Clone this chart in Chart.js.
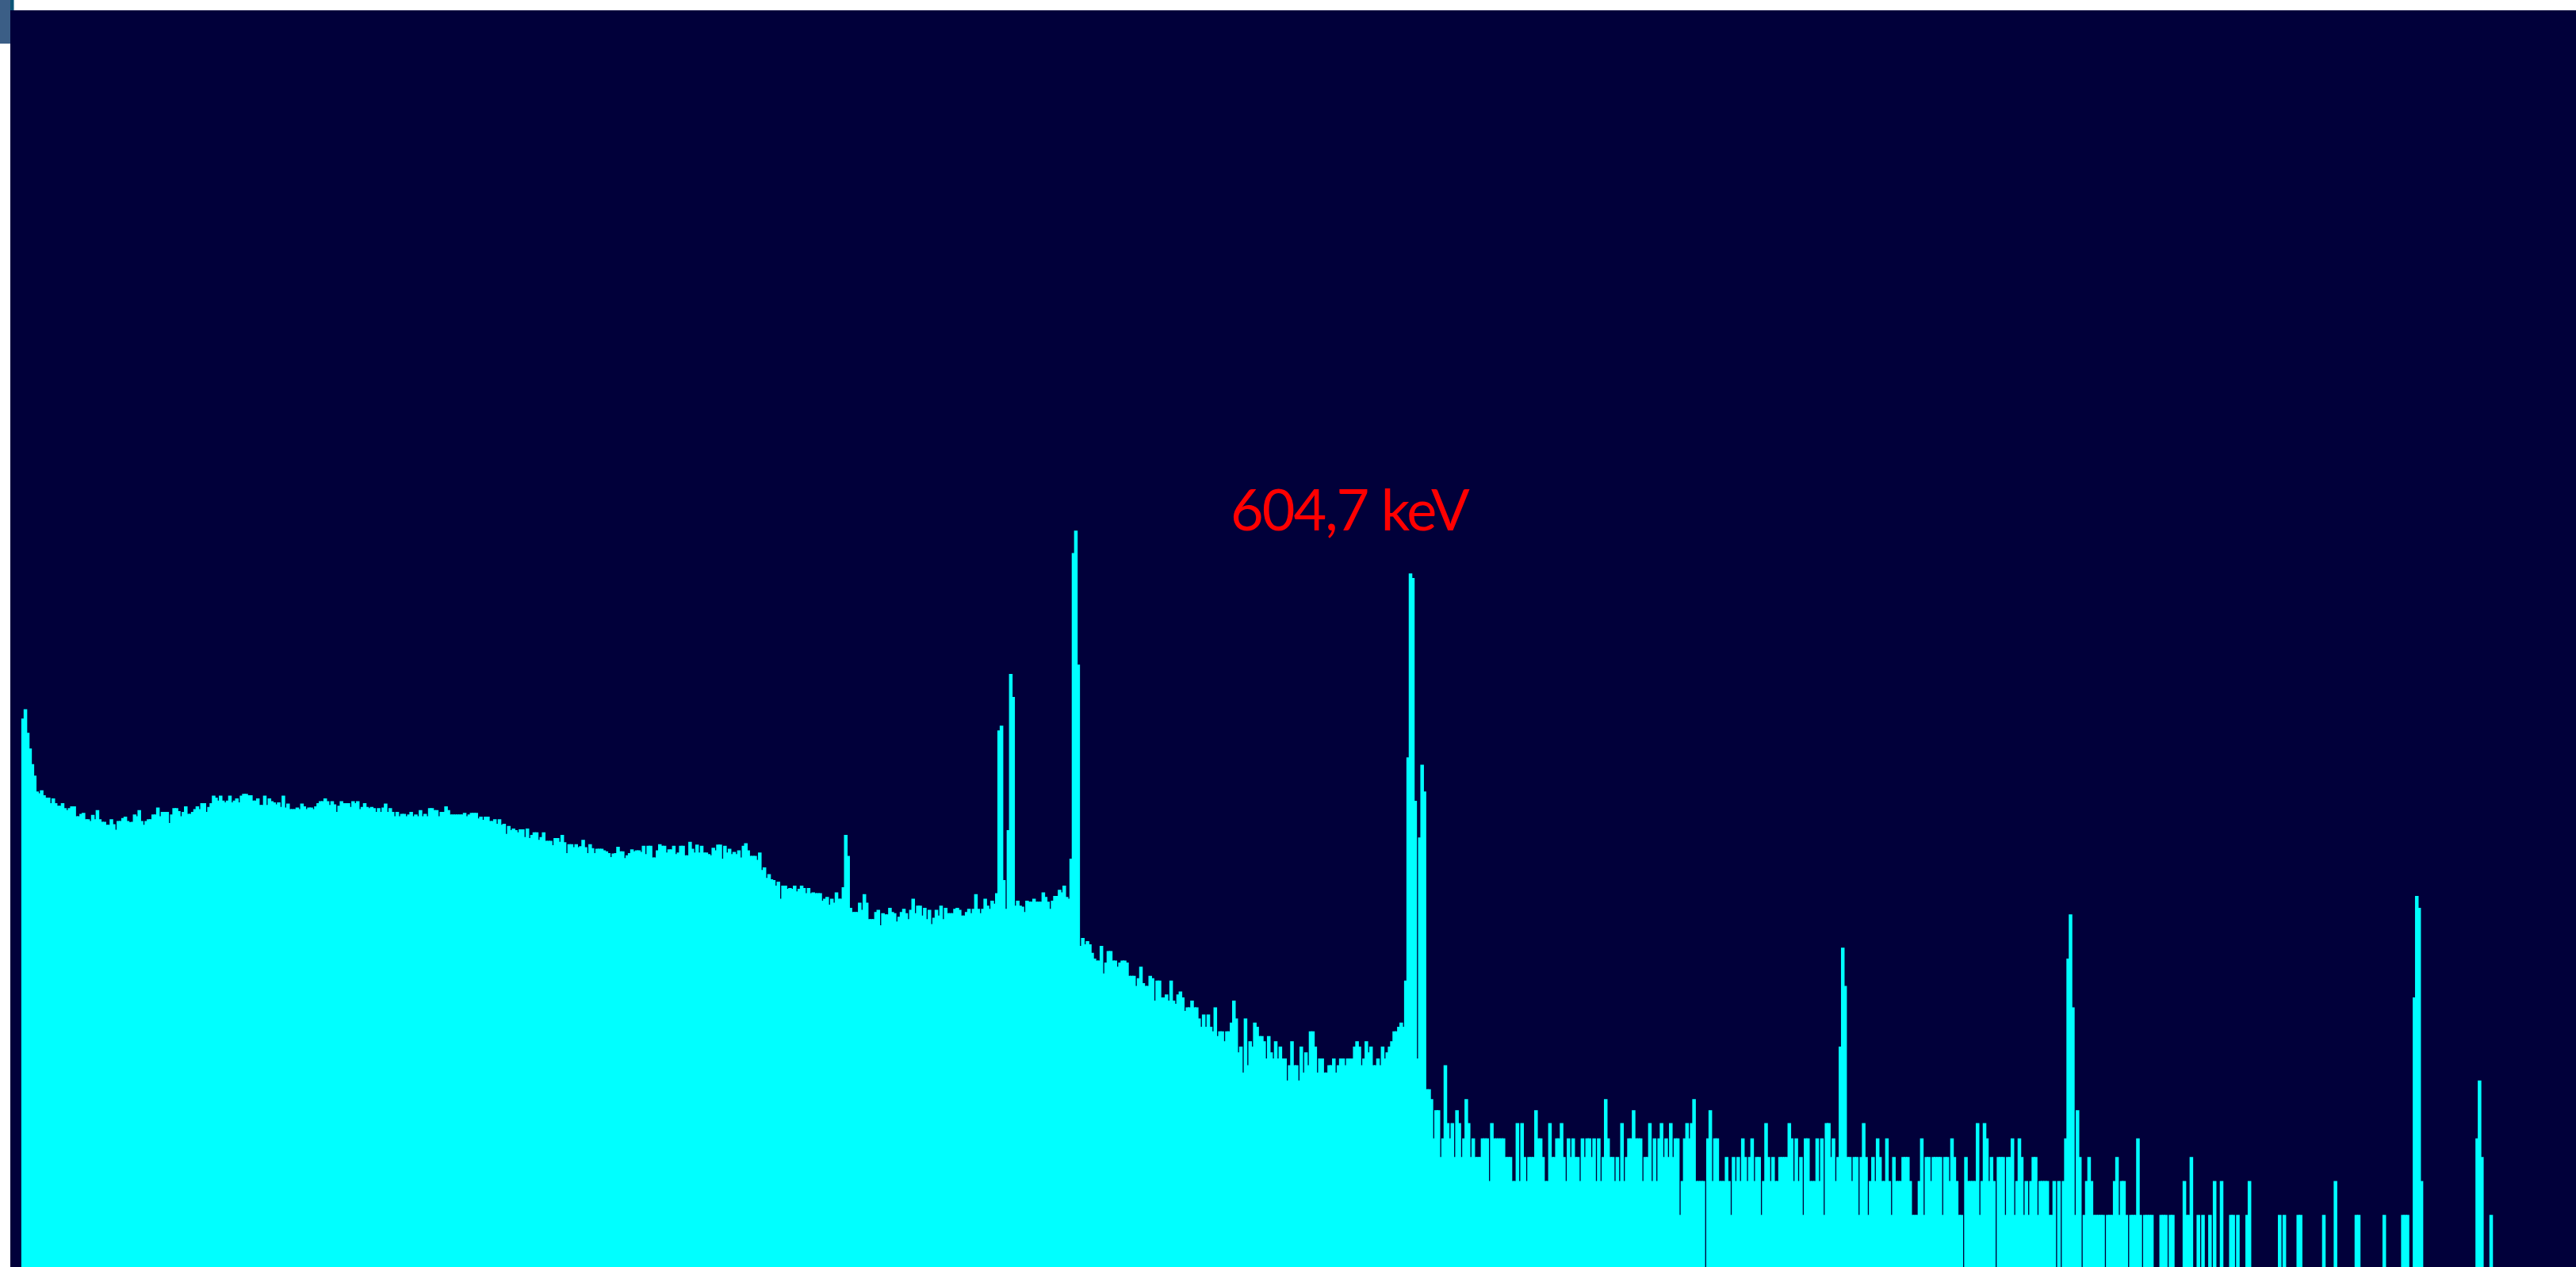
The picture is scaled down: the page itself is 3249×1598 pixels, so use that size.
<!DOCTYPE html>
<html>
<head>
<meta charset="utf-8">
<title>Spectrum</title>
<script src="https://cdn.jsdelivr.net/npm/chart.js@4.4.1/dist/chart.umd.min.js"></script>
<style>
  html, body { margin: 0; padding: 0; background: #ffffff; overflow: hidden; }
  #corner { position: absolute; left: 0; top: 0; width: 13px; height: 55px; background: #3b5e86; }
  #corner-strip { position: absolute; left: 13px; top: 0; width: 5px; height: 13px; background: #0b5576; border-right: 1px solid #7fa9bd; box-sizing: border-box; }
  #panel { position: absolute; left: 13px; top: 13px; width: 3236px; height: 1585px; background: #01003a; }
  #peak-label { position: absolute; left: 1552px; top: 605px; font-family: Lato, 'Open Sans', sans-serif; font-size: 72px; line-height: 72px; letter-spacing: -2px; color: #ff0000; white-space: nowrap; }
</style>
</head>
<body>
<div id="corner"></div>
<div id="corner-strip"></div>
<div id="panel"><canvas id="spectrum-chart" width="3236" height="1585"></canvas></div>
<div id="peak-label">604,7 keV</div>

<script>
// counts per channel (channels 0-268)
const continuumLow = [
  0,0,0,0,0,761,851,641,532,441,
  384,318,311,322,304,295,295,276,292,276,
  268,268,276,260,254,260,266,266,236,236,
  243,246,228,228,223,240,228,254,228,221,
  221,213,213,228,215,201,223,223,231,235,
  223,220,221,241,236,254,223,213,223,228,
  228,241,241,262,236,249,249,249,218,241,
  260,260,251,236,249,266,243,243,249,257,
  266,257,276,276,249,264,276,302,295,285,
  302,285,279,285,302,279,285,292,279,302,
  309,309,304,304,285,285,292,270,270,302,
  270,292,283,279,272,279,264,302,262,275,
  257,257,257,262,257,275,266,257,262,262,
  257,266,276,283,283,292,283,270,283,272,
  249,268,283,276,276,276,264,283,276,283,
  257,264,276,264,260,264,260,249,260,249,
  262,275,249,260,249,236,249,236,243,243,
  236,241,249,236,241,236,254,236,243,236,
  260,260,254,254,236,249,249,266,254,241,
  241,241,241,241,241,246,236,241,246,246,
  246,230,235,226,235,235,223,223,228,216,
  228,213,216,191,210,200,204,200,195,202,
  202,184,204,182,189,195,195,178,184,195,
  176,176,176,167,182,182,174,189,173,152,
  169,169,163,169,163,165,178,163,152,169,
  161,152,160,160,160,157,155,152,145,151,
  152,164,155,155,143,148,152,159,155
];

// channels 269-548 (small line, doublet, main line)
const continuumMid = [
  157,157,154,166,150,166,166,144,144,
  157,169,166,166,153,159,159,166,150,153,166,166,
  148,148,
  174,160,153,168,153,166,153,153,150,148,162,157,
  168,168,
  142,166,153,160,150,154,150,157,144,166,171,157,
  147,147,
  147,140,153,124,128,113,118,111,110,103,108,88,
  103,103,
  99,100,99,103,96,99,103,100,94,100,94,95,
  94,94,
  94,86,88,90,82,88,84,95,88,88,101,189,147,79,
  75,75,
  75,84,77,93,84,69,69,69,75,77,64,74,
  73,73,
  79,75,74,67,71,75,78,74,69,77,88,74,
  81,81,
  72,79,69,77,65,70,77,72,81,69,79,74,
  74,74,
  78,79,77,72,72,75,78,74,78,93,78,74,
  78,
  88,81,78,86,83,94,659,698,110,78,200,1298,986,81,86,81,80,75,86,
  85,85,
  88,85,85,85,95,90,85,78,86,
  91,91,
  98,95,103,90,88,142,5510,7210,1449,50,55,51,53,51,46,43,
  42,42,
  50,36,41,47,47,42,42,39,41,42,42,41,
  35,35,
  35,31,34,39,32,31,31,35,34,26,33,33,
  27,27,
  28,26,33,26,25,28,29,27,23,24,24,26,
  24,24,
  21,19,22,19,22,19,18,24,17,18,18,16,
  18,18,
  20,26,21,14,15,11,21,12,16,15,20,19,
  17,17,
  16,13,17,14,13,16,13,15,13,13
];

// channels 549-608 (604,7 keV line and its neighbour)
const shoulder = [
  10,12,16,12,12,10,15,11,14,12,
  18,18,15,11,13,13,11,11,12,12,
  13,11,12,13,13,12,
  13,13,13,15,16,15,12,13,16,14,
  15,12,12,13,12,15,13,14,15,16,
  18,18,19,20,19,33,478,4319,4090,284,
  13,183,438,318
];

// channels 609-813
const tailNear = [
  9,9,8,5,7,7,4,5,12,6,
  5,6,4,7,6,4,5,8,6,4,
  5,4,4,4,5,5,5,3,6,5,
  5,5,5,5,4,4,4,3,3,6,
  3,6,4,3,4,4,4,7,5,5,
  4,3,3,6,4,4,5,5,6,4,
  3,5,4,5,4,4,3,5,4,5,
  5,4,5,3,5,3,4,8,5,4,
  4,3,4,3,6,3,4,5,5,7,
  5,5,5,3,4,4,6,3,5,3,
  5,6,4,5,4,6,4,5,5,2,
  3,5,6,5,6,8,3,3,3,3,
  0,5,7,3,5,5,3,3,3,4,
  3,2,4,3,4,3,5,4,3,4,
  5,3,4,4,2,3,6,4,3,4,
  3,3,4,4,4,4,6,5,3,5,
  3,4,2,5,5,3,3,3,5,3,
  5,2,6,6,4,5,3,4,15,49,
  31,
  4,4,3,4,4,2,4,6,4,2,
  3,4,3,5,4,3,3,5,3,2,
  4,3,3,3
];

// channels 814-1103
const tailFar = [
  4,4,4,3,2,2,2,3,5,2,
  4,4,3,4,4,4,4,2,4,4,
  3,5,4,3,2,2,0,4,3,3,
  3,3,6,2,3,6,5,3,4,3,
  0,4,4,4,2,4,4,5,2,3,
  5,4,2,3,2,3,4,4,2,3,
  3,3,3,2,2,3,0,3,0,3,
  5,43,73,24,2,7,4,0,2,3,
  4,3,2,2,2,2,2,0,2,2,
  2,3,4,2,3,3,2,0,2,2,
  2,5,2,0,2,2,2,2,0,0,
  0,2,2,2,0,2,2,0,0,0,
  0,3,2,2,4,0,0,2,0,2,
  0,0,2,0,3,0,0,3,0,0,
  0,2,2,0,2,0,0,0,2,3,
  0,0,0,0,0,0,0,0,0,0,
  0,0,2,0,2,0,0,0,0,0,
  2,2,0,0,0,0,0,0,0,0,
  0,2,0,0,0,0,3,0,0,0,
  0,0,0,0,0,2,2,0,0,0,
  0,0,0,0,0,0,0,2,0,0,
  0,0,0,0,0,2,2,2,0,0,
  27,91,79,3,0,0,0,0,0,0,
  0,0,0,0,0,0,0,0,0,0,
  0,0,0,0,0,0,0,5,10,4,
  0,0,0,2,0,0,0,0,0,0,
  0,0,0,0,0,0,0,0,0,0,
  0,0,0,0,0,0,0,0,0,0,
  0,0,0,0,0,0,0,0,0,0
];

const yMin = 1.08;
const yMax = 3.68e6;

document.addEventListener('DOMContentLoaded', () => {
  renderSpectrum();
});

function renderSpectrum() {
  const counts = [...continuumLow, ...continuumMid, ...shoulder, ...tailNear, ...tailFar];
  const channels = counts.map((_, i) => i);
  // empty channels are left out so nothing is painted on the baseline
  const plotted = counts.map(v => (v > 0 ? v : null));

  const canvas = document.getElementById('spectrum-chart');
  if (!canvas) return;

  new Chart(canvas.getContext('2d'), {
    type: 'bar',
    data: {
      labels: channels,
      datasets: [{
        label: 'Counts',
        data: plotted,
        backgroundColor: '#00ffff',
        borderWidth: 0,
        barPercentage: 1,
        categoryPercentage: 1,
        inflateAmount: 0.8
      }]
    },
    options: {
      responsive: false,
      animation: false,
      devicePixelRatio: 1,
      layout: { padding: 0 },
      plugins: {
        legend: { display: false },
        tooltip: { enabled: false }
      },
      scales: {
        x: { display: false },
        y: {
          type: 'logarithmic',
          display: false,
          bounds: 'data',
          min: yMin,
          max: yMax
        }
      }
    }
  });
}
</script>
</body>
</html>
